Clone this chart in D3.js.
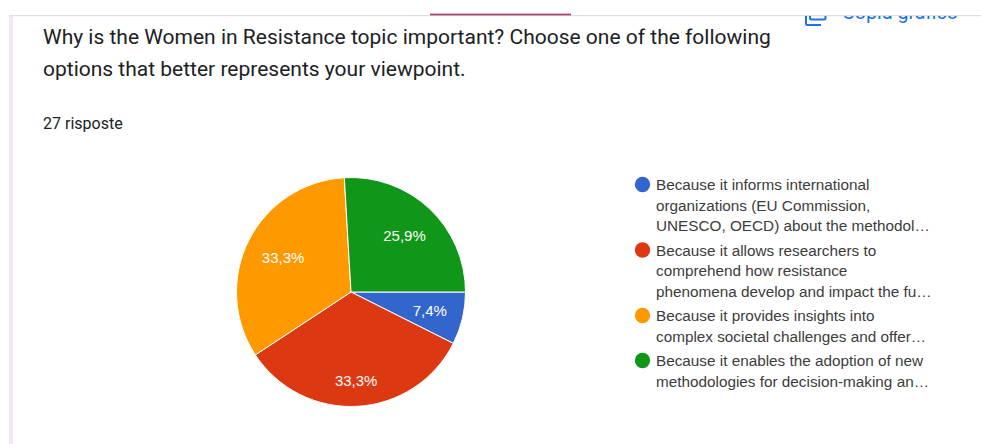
<!DOCTYPE html>
<html>
<head>
<meta charset="utf-8">
<script src="https://cdn.jsdelivr.net/npm/d3@7/dist/d3.min.js"></script>
<style>
  html, body { margin: 0; padding: 0; background: #fff; }
  svg { display: block; }
</style>
</head>
<body>
<svg id="chart" width="981" height="444"></svg>
<script>
// Survey responses, in slice order, clockwise from three o'clock
const categories = ["informs", "allows", "provides", "enables"];
const shares = [7.4, 33.3, 33.3, 25.9];
const shareLabels = ["7,4%", "33,3%", "33,3%", "25,9%"];
const sliceColors = ["#3366cc", "#dc3912", "#ff9900", "#109618"];

const titleLines = [
  "Why is the Women in Resistance topic important? Choose one of the following",
  "options that better represents your viewpoint."
];
const responseCount = "27 risposte";
const copyLabel = "Copia grafico";

const legendLines = [
  ["Because it informs international", "organizations (EU Commission,", "UNESCO, OECD) about the methodol…"],
  ["Because it allows researchers to", "comprehend how resistance", "phenomena develop and impact the fu…"],
  ["Because it provides insights into", "complex societal challenges and offer…"],
  ["Because it enables the adoption of new", "methodologies for decision-making an…"]
];

// Distance of each percentage label from the pie centre
const labelRadii = [81, 89, 76, 78];

const svg = d3.select("#chart");
const width = 981, height = 444;

// Page card: left accent, top rule and tab underline
svg.append("rect").attr("x", 9).attr("y", 15).attr("width", 4).attr("height", height - 15).attr("fill", "#f2e7f4");
svg.append("rect").attr("x", 9).attr("y", 15).attr("width", width - 9).attr("height", 1.2).attr("fill", "#e0dfe6");
svg.append("rect").attr("x", 430).attr("y", 13.6).attr("width", 141).attr("height", 1.8).attr("fill", "#a8466f");

// "Copy chart" control, cut off by the top rule
const clip = svg.append("defs").append("clipPath").attr("id", "below-rule");
clip.append("rect").attr("x", 0).attr("y", 16).attr("width", width).attr("height", height);
const copy = svg.append("g").attr("clip-path", "url(#below-rule)");
copy.append("rect").attr("x", 810).attr("y", 5).attr("width", 15.5).attr("height", 14.5)
  .attr("rx", 1.5).attr("fill", "none").attr("stroke", "#1a73e8").attr("stroke-width", 2);
copy.append("path").attr("d", "M806,5V23.5a1.5,1.5 0 0 0 1.5,1.5H821")
  .attr("fill", "none").attr("stroke", "#1a73e8").attr("stroke-width", 2);
copy.append("text").attr("x", 842).attr("y", 19)
  .attr("font-family", "Roboto, sans-serif").attr("font-size", 19.7).attr("fill", "#1a73e8")
  .text(copyLabel);

// Heading
svg.append("g").selectAll("text").data(titleLines).join("text")
  .attr("x", 43).attr("y", (d, i) => 44 + i * 32)
  .attr("font-family", "Roboto, sans-serif").attr("font-size", 21).attr("fill", "#202124")
  .text(d => d);

svg.append("text").attr("x", 43).attr("y", 128.5)
  .attr("font-family", "Roboto, sans-serif").attr("font-size", 16).attr("fill", "#202124")
  .text(responseCount);

// Pie
const cx = 351, cy = 292, radius = 114.5;
const angle = d3.pie().sort(null).value(d => d)
  .startAngle(Math.PI / 2).endAngle(Math.PI / 2 + 2 * Math.PI);
const arcs = angle(shares);
const arc = d3.arc().innerRadius(0).outerRadius(radius);

const pie = svg.append("g").attr("transform", `translate(${cx},${cy})`);
pie.selectAll("path").data(arcs).join("path")
  .attr("d", arc)
  .attr("fill", (d, i) => sliceColors[i])
  .attr("stroke", "#fff").attr("stroke-width", 1);

pie.selectAll("text").data(arcs).join("text")
  .attr("transform", (d, i) => {
    const [x, y] = d3.arc().innerRadius(labelRadii[i]).outerRadius(labelRadii[i]).centroid(d);
    return `translate(${x},${y})`;
  })
  .attr("text-anchor", "middle").attr("dy", "0.36em")
  .attr("font-family", "'Liberation Sans', Arial, sans-serif").attr("font-size", 15).attr("fill", "#fff")
  .text((d, i) => shareLabels[i]);

// Legend
const lineHeight = 20.5, blockGap = 4;
const legend = svg.append("g");
let y = 184.5;
legendLines.forEach((lines, i) => {
  const row = legend.append("g").attr("data-category", categories[i]);
  row.append("circle").attr("cx", 642.5).attr("cy", y).attr("r", 7.7).attr("fill", sliceColors[i]);
  row.selectAll("text").data(lines).join("text")
    .attr("x", 656).attr("y", (d, j) => y + j * lineHeight)
    .attr("dy", "0.36em")
    .attr("font-family", "'Liberation Sans', Arial, sans-serif").attr("font-size", 15.3).attr("fill", "#3c3c3c")
    .text(d => d);
  y += lines.length * lineHeight + blockGap;
});
</script>
</body>
</html>
